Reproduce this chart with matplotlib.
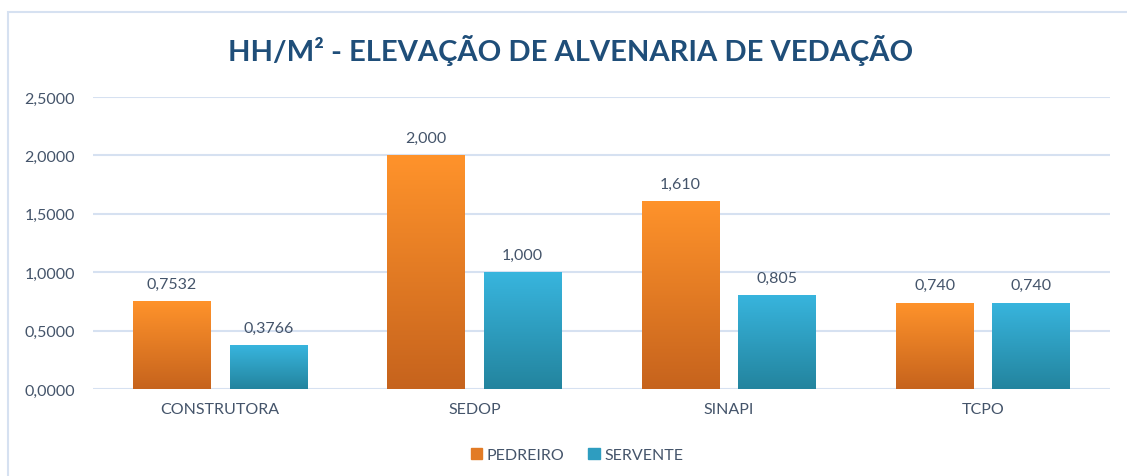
import numpy as np
import matplotlib.pyplot as plt
from matplotlib.colors import LinearSegmentedColormap
from matplotlib.patches import Rectangle

# --- dados ---
categorias = ["CONSTRUTORA", "SEDOP", "SINAPI", "TCPO"]
pedreiro = [0.7532, 2.000, 1.610, 0.740]
servente = [0.3766, 1.000, 0.805, 0.740]
rotulos_pedreiro = ["0,7532", "2,000", "1,610", "0,740"]
rotulos_servente = ["0,3766", "1,000", "0,805", "0,740"]
titulo = "HH/M² - ELEVAÇÃO DE ALVENARIA DE VEDAÇÃO"

plt.rcParams["font.family"] = ["Lato", "DejaVu Sans"]
txt = "#44546A"
grade = "#D6E1F1"

fig = plt.figure(figsize=(11.27, 4.77), dpi=100)
ax = fig.add_axes([93 / 1127, 1 - 390 / 477, 1017 / 1127, 292 / 477])

# moldura do gráfico (só esquerda e topo aparecem)
fig.add_artist(Rectangle((8 / 1127, -0.1), 1.2, (477 - 13) / 477 + 0.1,
                         transform=fig.transFigure, fill=False,
                         edgecolor=grade, lw=1.5))

x = np.arange(len(categorias))
w = 0.305
off = 0.19

cm_lar = LinearSegmentedColormap.from_list("lar", ["#C6631D", "#FF932B"])
cm_az = LinearSegmentedColormap.from_list("az", ["#23849E", "#38B5DE"])

def barras_gradiente(pos, vals, cmap):
    bars = ax.bar(pos, vals, w, color="none", zorder=3)
    grad = np.linspace(0, 1, 256).reshape(-1, 1)
    for b in bars:
        x0, y0 = b.get_x(), b.get_y()
        im = ax.imshow(grad, cmap=cmap, origin="lower", aspect="auto",
                       extent=[x0, x0 + b.get_width(), y0, y0 + b.get_height()],
                       zorder=3)
        im.set_clip_path(b)
    return bars

b1 = barras_gradiente(x - off, pedreiro, cm_lar)
b2 = barras_gradiente(x + off, servente, cm_az)

for b, r in zip(b1, rotulos_pedreiro):
    ax.text(b.get_x() + b.get_width() / 2, b.get_height() + 0.09, r,
            ha="center", va="bottom", fontsize=11.5, color=txt)
for b, r in zip(b2, rotulos_servente):
    ax.text(b.get_x() + b.get_width() / 2, b.get_height() + 0.09, r,
            ha="center", va="bottom", fontsize=11.5, color=txt)

ax.set_xlim(-0.5, len(categorias) - 0.5)
ax.set_ylim(0, 2.5)
yt = np.arange(0, 2.51, 0.5)
ax.set_yticks(yt)
ax.set_yticklabels([f"{v:.4f}".replace(".", ",") for v in yt])
ax.set_xticks(x)
ax.set_xticklabels(categorias)
ax.tick_params(length=0, labelsize=11.5, labelcolor=txt)
ax.tick_params(axis="y", pad=13)
ax.tick_params(axis="x", pad=9)
ax.grid(axis="y", color=grade, lw=1.5, zorder=0)
ax.set_axisbelow(True)
for s in ax.spines.values():
    s.set_visible(False)

fig.text(571 / 1127, 1 - 50 / 477, titulo, ha="center", va="center",
         fontsize=21, fontweight="bold", color="#1F4E79")

h = [Rectangle((0, 0), 1, 1, color="#E27B25"), Rectangle((0, 0), 1, 1, color="#2E9DC0")]
fig.legend(h, ["PEDREIRO", "SERVENTE"], loc="center", bbox_to_anchor=(577 / 1127, 1 - 456 / 477),
           ncol=2, frameon=False, fontsize=11.5, labelcolor=txt,
           handlelength=0.7, handleheight=0.7, handletextpad=0.3, columnspacing=1.5)

fig.savefig("out.png", dpi=100)
